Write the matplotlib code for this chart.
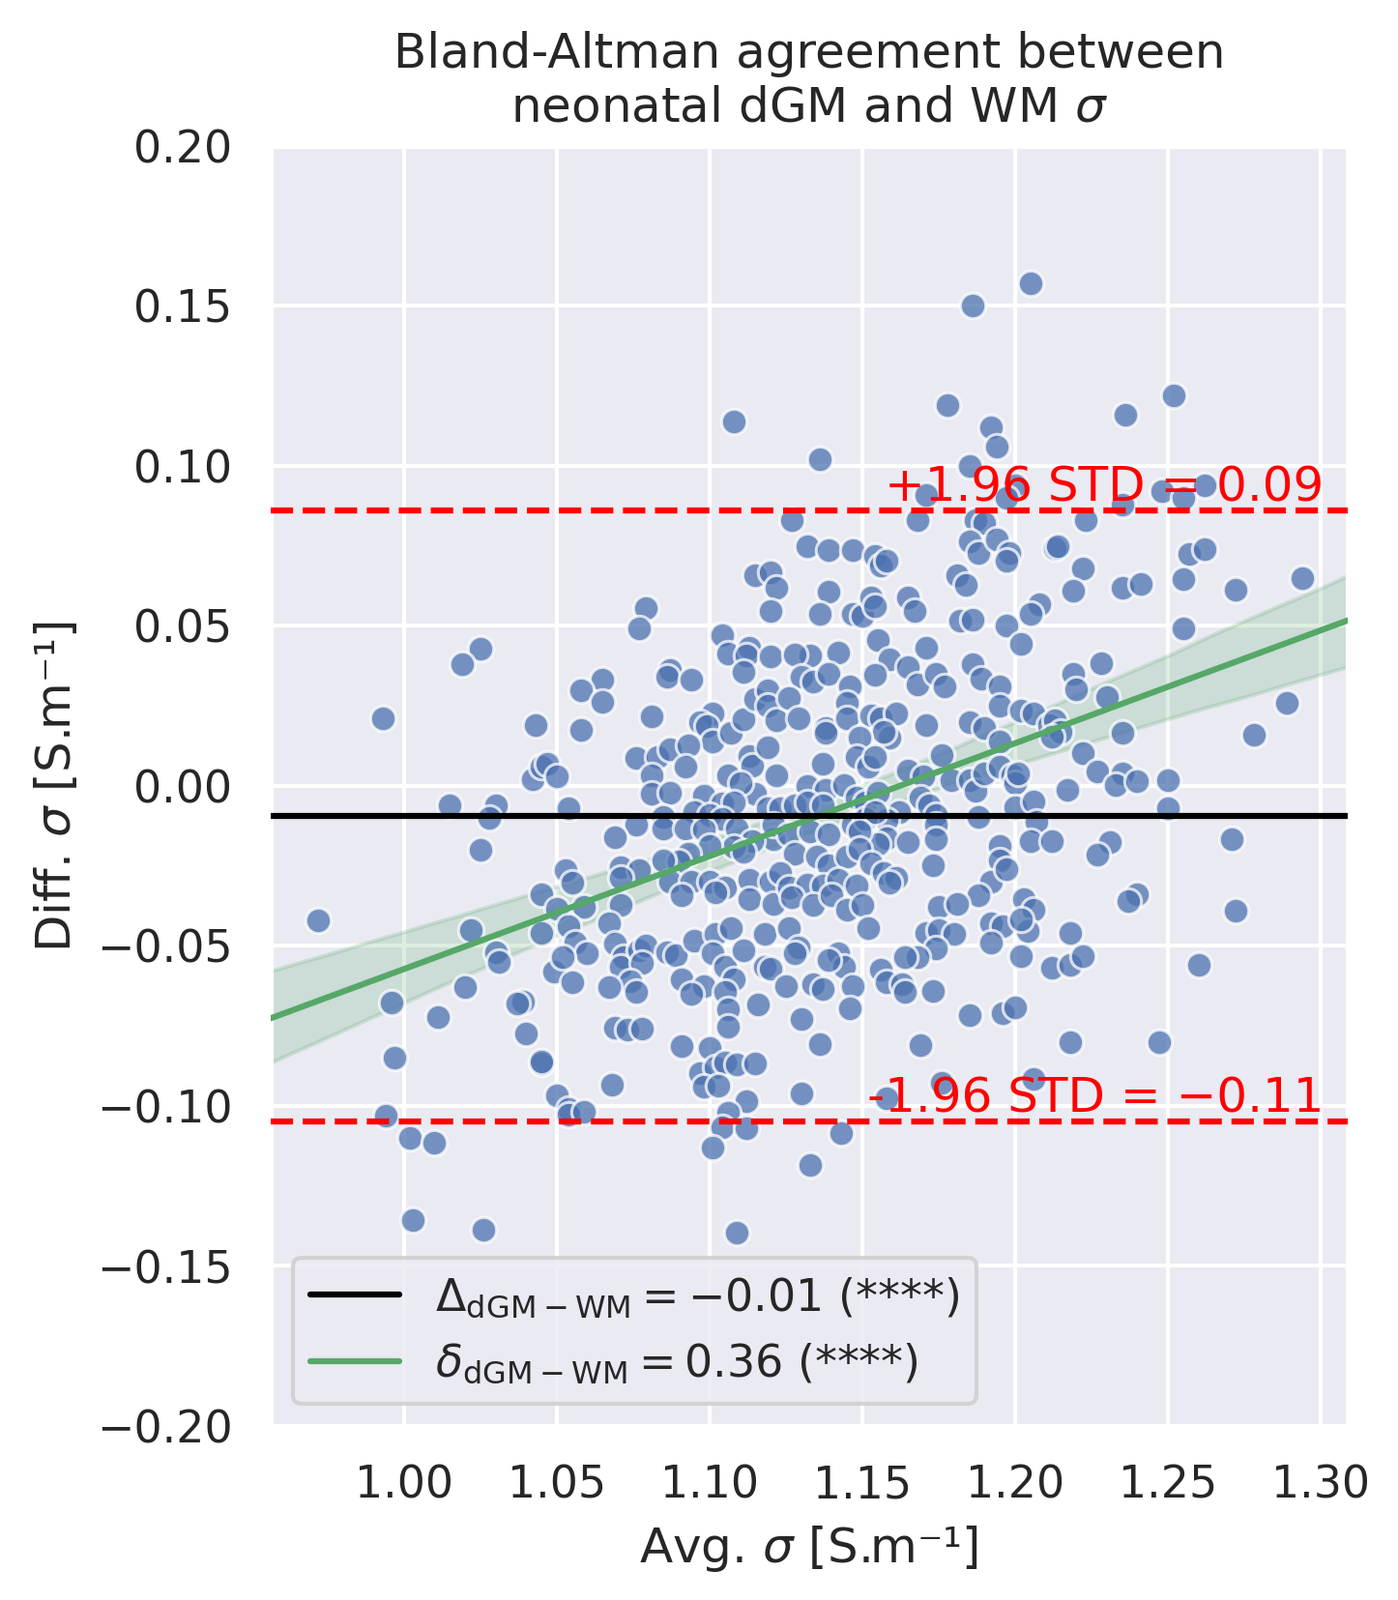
import numpy as np
import matplotlib
matplotlib.use("Agg")
import matplotlib.pyplot as plt
import seaborn as sns

# (avg sigma, diff sigma) pairs, grouped by region
upper_points = [
    (1.108, 0.114), (1.205, 0.157), (1.186, 0.150), (1.178, 0.119), (1.252, 0.122),
    (1.236, 0.116), (1.192, 0.112), (1.194, 0.106), (1.136, 0.102), (1.185, 0.100),
    (1.262, 0.094), (1.200, 0.094), (1.197, 0.090), (1.171, 0.091), (1.248, 0.092),
    (1.255, 0.090), (1.235, 0.088), (1.127, 0.083), (1.168, 0.083), (1.223, 0.083),
    (1.187, 0.083), (1.190, 0.082),
]
left_points = [
    (1.025, 0.043), (1.019, 0.038), (0.993, 0.021), (1.043, 0.019), (1.042, 0.002),
    (1.045, 0.006), (1.047, 0.007), (1.050, 0.003), (1.015, -0.006), (1.030, -0.006),
    (1.028, -0.010), (1.025, -0.020), (1.045, -0.034), (0.972, -0.042), (1.022, -0.045),
    (1.030, -0.052), (1.031, -0.055), (1.045, -0.046), (1.020, -0.063), (1.049, -0.058),
]
centre_left_points = [
    (1.079, 0.0557), (1.077, 0.0493), (1.115, 0.0659), (1.120, 0.0668), (1.122, 0.0618),
    (1.120, 0.0545), (1.104, 0.0470), (1.106, 0.0413), (1.113, 0.0432), (1.112, 0.0406),
    (1.111, 0.0356), (1.120, 0.0403), (1.087, 0.0361), (1.086, 0.0341), (1.094, 0.0331),
    (1.065, 0.0333), (1.058, 0.0299), (1.065, 0.0261), (1.058, 0.0174), (1.081, 0.0218),
    (1.101, 0.0225), (1.097, 0.0198), (1.099, 0.0188), (1.101, 0.0140), (1.107, 0.0165),
    (1.111, 0.0208), (1.115, 0.0271), (1.119, 0.0298), (1.119, 0.0250), (1.122, 0.0205),
    (1.076, 0.0088), (1.083, 0.0090), (1.087, 0.0115), (1.093, 0.0128), (1.092, 0.0061),
    (1.081, 0.0034), (1.081, -0.0026), (1.087, -0.0021), (1.106, 0.0034), (1.113, 0.0092),
    (1.114, 0.0064), (1.119, 0.0120), (1.115, -0.0026), (1.110, 0.0009), (1.122, 0.0034),
    (1.054, -0.0071), (1.098, -0.0031), (1.104, -0.0056), (1.108, -0.0051), (1.095, -0.0081),
    (1.100, -0.0092), (1.104, -0.0102), (1.119, -0.0071), (1.076, -0.0122), (1.069, -0.0160),
    (1.085, -0.0097), (1.085, -0.0134), (1.092, -0.0132), (1.098, -0.0137), (1.109, -0.0132),
    (1.121, -0.0167), (1.114, -0.0172), (1.108, -0.0190), (1.111, -0.0207), (1.100, -0.0187),
    (1.093, -0.0212), (1.090, -0.0237), (1.085, -0.0232), (1.071, -0.0253), (1.077, -0.0263),
    (1.053, -0.0263), (1.055, -0.0303), (1.071, -0.0288), (1.087, -0.0298), (1.094, -0.0298),
    (1.100, -0.0298), (1.105, -0.0318), (1.113, -0.0293), (1.120, -0.0298), (1.091, -0.0343),
    (1.102, -0.0333), (1.113, -0.0353), (1.121, -0.0368), (1.050, -0.0383), (1.059, -0.0378),
    (1.071, -0.0373), (1.067, -0.0429), (1.054, -0.0439), (1.056, -0.0489), (1.060, -0.0524),
    (1.052, -0.0534), (1.055, -0.0615), (1.069, -0.0494), (1.072, -0.0534), (1.071, -0.0564),
    (1.077, -0.0514), (1.079, -0.0499), (1.078, -0.0554), (1.074, -0.0610), (1.067, -0.0630),
    (1.076, -0.0645), (1.086, -0.0519), (1.089, -0.0530), (1.095, -0.0484), (1.102, -0.0464),
    (1.107, -0.0444), (1.101, -0.0524), (1.105, -0.0564), (1.111, -0.0514), (1.108, -0.0605),
    (1.118, -0.0564), (1.120, -0.0570), (1.118, -0.0464), (1.091, -0.0605), (1.098, -0.0625),
    (1.094, -0.0650), (1.105, -0.0645),
]
centre_right_points = [
    (1.132, 0.0748), (1.139, 0.0738), (1.147, 0.0738), (1.154, 0.0718), (1.156, 0.0688),
    (1.158, 0.0703), (1.139, 0.0608), (1.136, 0.0537), (1.147, 0.0537), (1.150, 0.0532),
    (1.153, 0.0588), (1.154, 0.0562), (1.165, 0.0588), (1.167, 0.0547), (1.185, 0.0764),
    (1.188, 0.0729), (1.194, 0.0769), (1.198, 0.0729), (1.197, 0.0703), (1.181, 0.0658),
    (1.184, 0.0628), (1.182, 0.0517), (1.186, 0.0520), (1.197, 0.0502),
    (1.155, 0.0457), (1.171, 0.0432), (1.159, 0.0396), (1.165, 0.0371), (1.168, 0.0316),
    (1.174, 0.0351), (1.177, 0.0311), (1.154, 0.0348), (1.186, 0.0381), (1.189, 0.0336),
    (1.195, 0.0311), (1.195, 0.0250), (1.142, 0.0417), (1.133, 0.0406), (1.128, 0.0411),
    (1.130, 0.0341), (1.134, 0.0326), (1.139, 0.0351), (1.146, 0.0311), (1.145, 0.0260),
    (1.126, 0.0276), (1.129, 0.0210), (1.138, 0.0180), (1.138, 0.0165), (1.145, 0.0210),
    (1.153, 0.0220), (1.156, 0.0210), (1.161, 0.0225), (1.159, 0.0150), (1.157, 0.0170),
    (1.171, 0.0190), (1.185, 0.0200), (1.190, 0.0180), (1.195, 0.0140), (1.149, 0.0150),
    (1.148, 0.0090), (1.152, 0.0059), (1.154, 0.0090), (1.137, 0.0069), (1.132, -0.0001),
    (1.138, -0.0011), (1.144, 0.0004), (1.148, -0.0036), (1.151, -0.0051), (1.155, -0.0021),
    (1.165, 0.0049), (1.170, 0.0029), (1.176, 0.0095), (1.179, 0.0019), (1.185, 0.0019),
    (1.187, -0.0016), (1.190, 0.0039), (1.195, 0.0059), (1.169, -0.0036), (1.172, -0.0061),
    (1.174, -0.0092), (1.174, -0.0122), (1.174, -0.0167), (1.162, -0.0081), (1.158, -0.0107),
    (1.158, -0.0162), (1.155, -0.0182), (1.165, -0.0177), (1.188, -0.0097), (1.195, -0.0187),
    (1.195, -0.0232), (1.192, -0.0298), (1.188, -0.0343), (1.173, -0.0247), (1.123, -0.0071),
    (1.128, -0.0061), (1.132, -0.0051), (1.137, -0.0061), (1.121, -0.0122), (1.126, -0.0152),
    (1.133, -0.0142), (1.139, -0.0152), (1.147, -0.0122), (1.151, -0.0102), (1.154, -0.0081),
    (1.149, -0.0142), (1.128, -0.0212), (1.135, -0.0222), (1.139, -0.0247), (1.145, -0.0222),
    (1.149, -0.0197), (1.153, -0.0242), (1.157, -0.0273), (1.161, -0.0288), (1.123, -0.0273),
    (1.126, -0.0318), (1.132, -0.0308), (1.137, -0.0313), (1.142, -0.0293), (1.148, -0.0313),
    (1.159, -0.0303), (1.127, -0.0348), (1.134, -0.0373), (1.140, -0.0343), (1.145, -0.0388),
    (1.150, -0.0373), (1.126, -0.0444), (1.152, -0.0444), (1.129, -0.0504), (1.128, -0.0524),
    (1.142, -0.0524), (1.144, -0.0564), (1.139, -0.0544), (1.125, -0.0625), (1.134, -0.0620),
    (1.137, -0.0635), (1.147, -0.0625), (1.156, -0.0574), (1.158, -0.0615), (1.163, -0.0620),
    (1.164, -0.0645), (1.175, -0.0378), (1.181, -0.0368), (1.171, -0.0459), (1.175, -0.0449),
    (1.180, -0.0464), (1.174, -0.0509), (1.168, -0.0534), (1.164, -0.0534), (1.192, -0.0429),
    (1.196, -0.0439), (1.192, -0.0489), (1.173, -0.0640),
]
right_points = [
    (1.213, 0.0743), (1.214, 0.0748), (1.222, 0.0680), (1.219, 0.0611), (1.235, 0.0618),
    (1.241, 0.0630), (1.257, 0.0726), (1.262, 0.0740), (1.255, 0.0647), (1.272, 0.0612),
    (1.294, 0.0650), (1.208, 0.0567), (1.205, 0.0537), (1.255, 0.0493), (1.202, 0.0445),
    (1.228, 0.0384), (1.219, 0.0351), (1.220, 0.0301), (1.230, 0.0279), (1.289, 0.0259),
    (1.202, 0.0235), (1.206, 0.0227), (1.211, 0.0190), (1.213, 0.0205), (1.215, 0.0168),
    (1.212, 0.0155), (1.235, 0.0165), (1.278, 0.0161), (1.222, 0.0101), (1.227, 0.0044),
    (1.235, 0.0039), (1.233, 0.0004), (1.240, 0.0016), (1.250, 0.0017), (1.217, -0.0011),
    (1.250, -0.0069), (1.199, 0.0034), (1.200, 0.0009), (1.201, 0.0039), (1.200, -0.0066),
    (1.206, -0.0049), (1.207, -0.0112), (1.205, -0.0172), (1.212, -0.0172), (1.197, -0.0260),
    (1.231, -0.0175), (1.227, -0.0215), (1.271, -0.0165), (1.240, -0.0338), (1.237, -0.0361),
    (1.203, -0.0353), (1.206, -0.0388), (1.272, -0.0391), (1.204, -0.0454), (1.202, -0.0418),
    (1.218, -0.0461), (1.202, -0.0532), (1.212, -0.0569), (1.218, -0.0559), (1.222, -0.0532),
    (1.260, -0.0559),
]
lower_points = [
    (0.996, -0.0678), (1.011, -0.0723), (0.997, -0.0850), (1.039, -0.0675), (1.037, -0.0680),
    (1.040, -0.0774), (1.045, -0.0867), (1.045, -0.0860), (1.050, -0.0966), (1.054, -0.1008),
    (1.054, -0.1028), (1.059, -0.1018), (1.068, -0.0934), (1.069, -0.0756), (1.073, -0.0761),
    (1.078, -0.0760), (0.994, -0.1031), (1.002, -0.1099), (1.010, -0.1114), (1.003, -0.1357),
    (1.026, -0.1387), (1.106, -0.0697), (1.106, -0.0754), (1.116, -0.0682), (1.130, -0.0727),
    (1.146, -0.0695), (1.136, -0.0807), (1.185, -0.0717), (1.196, -0.0710), (1.169, -0.0811),
    (1.091, -0.0814), (1.100, -0.0818), (1.097, -0.0897), (1.102, -0.0880), (1.105, -0.0863),
    (1.109, -0.0870), (1.115, -0.0867), (1.098, -0.0939), (1.103, -0.0937), (1.112, -0.0986),
    (1.106, -0.1020), (1.104, -0.1067), (1.112, -0.1069), (1.101, -0.1129), (1.130, -0.0962),
    (1.143, -0.1084), (1.133, -0.1184), (1.109, -0.1395), (1.158, -0.0976), (1.176, -0.0927),
    (1.200, -0.0692), (1.218, -0.0802), (1.247, -0.0802), (1.206, -0.0917),
]

MEAN_DIFF = -0.0095
SD_DIFF = 0.0487
UPPER_LABEL = "+1.96 STD = 0.09"
LOWER_LABEL = "-1.96 STD = \u22120.11"
MEAN_LABEL = r"$\Delta_{\mathrm{dGM-WM}} = -0.01$ (****)"
SLOPE_LABEL = r"$\delta_{\mathrm{dGM-WM}} = 0.36$ (****)"

BLUE = "#4C72B0"
GREEN = "#55A868"


def main():
    sns.set_theme(style="darkgrid")
    pts = np.array(upper_points + left_points + centre_left_points
                   + centre_right_points + right_points + lower_points)
    avg, diff = pts[:, 0], pts[:, 1]

    fig, ax = plt.subplots(figsize=(4.82, 5.517), dpi=300)
    fig.subplots_adjust(left=0.1936, right=0.964, bottom=0.1088, top=0.9088)
    ax.set_xlim(0.9564, 1.3088)
    ax.set_ylim(-0.2, 0.2)

    ax.scatter(avg, diff, s=40, color=BLUE, alpha=0.75, edgecolor="white",
               linewidth=0.75, zorder=2)
    n_before = len(ax.collections)
    sns.regplot(x=avg, y=diff, scatter=False, ci=95, truncate=False, seed=0,
                color=GREEN, ax=ax, line_kws=dict(lw=1.5, zorder=3))
    # confidence band: give it visible edges like the reference
    for band in ax.collections[n_before:]:
        band.set_edgecolor(GREEN)
        band.set_linewidth(1.0)
        band.set_alpha(0.2)
    ax.axhline(MEAN_DIFF, color="black", lw=1.5, zorder=4)

    upper = MEAN_DIFF + 1.96 * SD_DIFF
    lower = MEAN_DIFF - 1.96 * SD_DIFF
    for y, label in ((upper, UPPER_LABEL), (lower, LOWER_LABEL)):
        ax.axhline(y, color="red", ls="--", lw=1.5, zorder=4)
        ax.text(1.301, y, label, color="red", ha="right", va="bottom",
                fontsize=12, zorder=5)

    handles = [plt.Line2D([], [], color="black", lw=1.5),
               plt.Line2D([], [], color=GREEN, lw=1.5)]
    ax.legend(handles, [MEAN_LABEL, SLOPE_LABEL], loc="lower left")
    ax.set_xlim(0.9564, 1.3088)
    ax.set_ylim(-0.2, 0.2)
    ax.set_xlabel("Avg. $\\sigma$ [S.m\u207b\u00b9]")
    ax.set_ylabel("Diff. $\\sigma$ [S.m\u207b\u00b9]")
    ax.set_title("Bland-Altman agreement between\nneonatal dGM and WM $\\sigma$")

    fig.savefig("out.png", dpi=300)
    plt.close(fig)


if __name__ == "__main__":
    main()
